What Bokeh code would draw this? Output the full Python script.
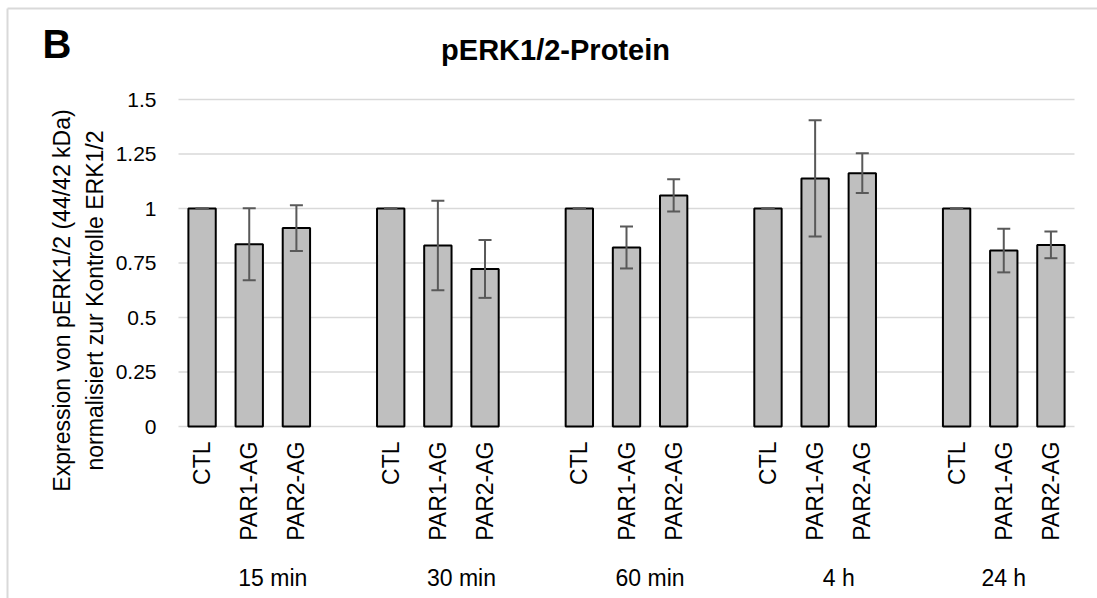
import math

from bokeh.core.properties import value
from bokeh.embed import file_html
from bokeh.models import ColumnDataSource, TeeHead, Whisker
from bokeh.plotting import figure
from bokeh.resources import INLINE

# ---- data -------------------------------------------------------------
groups = ["15 min", "30 min", "60 min", "4 h", "24 h"]
treatments = ["CTL", "PAR1-AG", "PAR2-AG"]

ctl_mean = [1.0, 1.0, 1.0, 1.0, 1.0]
ctl_err = [0.0, 0.0, 0.0, 0.0, 0.0]
par1_mean = [0.836, 0.830, 0.821, 1.138, 0.807]
par1_err = [0.165, 0.205, 0.096, 0.267, 0.100]
par2_mean = [0.910, 0.723, 1.060, 1.162, 0.833]
par2_err = [0.105, 0.133, 0.074, 0.091, 0.061]

y_ticks = [0, 0.25, 0.5, 0.75, 1, 1.25, 1.5]
y_tick_labels = ["0", "0.25", "0.5", "0.75", "1", "1.25", "1.5"]

title_text = "pERK1/2-Protein"
panel_letter = "B"
y_title_lines = ["Expression von pERK1/2 (44/42 kDa)",
                 "normalisiert zur Kontrolle ERK1/2"]

# ---- layout constants (page pixels) -----------------------------------
PAGE_W, PAGE_H = 1097, 598
FRAME_L, FRAME_R = 178, 1074      # plot area
FRAME_T, FRAME_B = 99, 426
FONT = "Liberation Sans"
GRID = "#d9d9d9"

slots_per_group = len(treatments) + 1          # three bars plus a gap slot
n_slots = len(groups) * slots_per_group - 1
y_max = 1.5

px_per_x = (FRAME_R - FRAME_L) / n_slots
px_per_y = (FRAME_B - FRAME_T) / y_max


def xd(px):
    """page x pixel -> data x"""
    return (px - FRAME_L) / px_per_x


def yd(py):
    """page y pixel -> data y"""
    return (FRAME_B - py) / px_per_y


# ---- table for the bars -------------------------------------------------
xs, tops, lows, highs, names = [], [], [], [], []
series = [(ctl_mean, ctl_err), (par1_mean, par1_err), (par2_mean, par2_err)]
for g in range(len(groups)):
    for i, (means, errs) in enumerate(series):
        xs.append(g * slots_per_group + i + 0.5)
        tops.append(means[g])
        lows.append(means[g] - errs[g])
        highs.append(means[g] + errs[g])
        names.append(treatments[i])

src = ColumnDataSource(dict(x=xs, top=tops, lower=lows, upper=highs, name=names))

# each group label is centred on the span of slots it owns (its gap slot included)
group_x = []
for g in range(len(groups)):
    start = g * slots_per_group
    end = min(start + slots_per_group, n_slots)
    group_x.append((start + end) / 2)

# ---- figure: the data frame spans the whole canvas ----------------------
p = figure(
    width=PAGE_W, height=PAGE_H,
    x_range=(xd(0), xd(PAGE_W)), y_range=(yd(PAGE_H), yd(0)),
    output_backend="svg", toolbar_location=None,
    min_border=0,
)
p.axis.visible = False
p.grid.visible = False
p.outline_line_color = None
p.background_fill_color = "white"
p.border_fill_color = "white"

# chart-area border (top and left edges)
p.segment(x0=[xd(7), xd(7)], y0=[yd(8), yd(8)], x1=[xd(PAGE_W + 5), xd(7)],
          y1=[yd(8), yd(PAGE_H + 5)], line_color=GRID, line_width=2)

# horizontal gridlines
p.segment(x0=0, x1=n_slots, y0=y_ticks, y1=y_ticks,
          line_color=GRID, line_width=1.5)

# y tick labels
p.text(x=xd(156), y=y_ticks, text=y_tick_labels,
       text_align="right", text_baseline="middle",
       text_font=value(FONT), text_font_size="21px", text_color="#000000")

# bars
p.vbar(x="x", top="top", bottom=0, width=0.58, source=src,
       fill_color="#bfbfbf", line_color="#000000", line_width=2)

# error bars
whisk = Whisker(
    base="x", upper="upper", lower="lower", source=src, dimension="height",
    line_color="#595959", line_width=2,
    upper_head=TeeHead(size=13, line_color="#595959", line_width=2),
    lower_head=TeeHead(size=13, line_color="#595959", line_width=2),
    level="annotation",
)
p.add_layout(whisk)

# treatment labels under each bar (rotated, reading upwards)
p.text(x="x", y=yd(441), text="name", source=src, angle=math.pi / 2,
       text_align="right", text_baseline="middle",
       text_font=value(FONT), text_font_size="23px", text_color="#000000")

# time-point labels under each group
p.text(x=group_x, y=yd(577), text=groups,
       text_align="center", text_baseline="middle",
       text_font=value(FONT), text_font_size="23px", text_color="#000000")

# y-axis title (two lines)
p.text(x=[xd(61), xd(94)], y=yd(300), text=y_title_lines,
       angle=math.pi / 2, text_align="center", text_baseline="middle",
       text_font=value(FONT), text_font_size="23px", text_color="#000000")

# chart title
p.text(x=[xd(555)], y=[yd(49)], text=[title_text],
       text_align="center", text_baseline="middle",
       text_font=value(FONT), text_font_size="29px", text_font_style="bold",
       text_color="#000000")

# panel letter
p.text(x=[xd(42)], y=[yd(43)], text=[panel_letter],
       text_align="left", text_baseline="middle",
       text_font=value(FONT), text_font_size="40px", text_font_style="bold",
       text_color="#000000")

open("out.html", "w").write(file_html(p, INLINE))
